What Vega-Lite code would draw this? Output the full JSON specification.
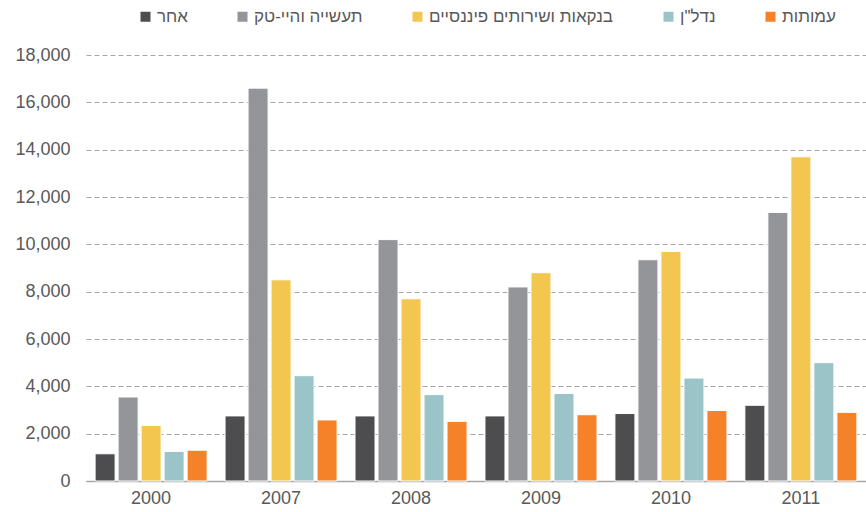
{
  "$schema": "https://vega.github.io/schema/vega-lite/v6.json",
  "width": 780,
  "height": 426,
  "autosize": "none",
  "padding": {"left": 86, "top": 55, "right": 0, "bottom": 31},
  "background": "white",
  "config": {
    "font": "Liberation Sans",
    "view": {"stroke": null}
  },
  "data": {
    "values": [
      {"year": "2000", "sector": "אחר", "value": 1150},
      {"year": "2000", "sector": "תעשייה והיי-טק", "value": 3550},
      {"year": "2000", "sector": "בנקאות ושירותים פיננסיים", "value": 2350},
      {"year": "2000", "sector": "נדל\"ן", "value": 1250},
      {"year": "2000", "sector": "עמותות", "value": 1300},
      {"year": "2007", "sector": "אחר", "value": 2750},
      {"year": "2007", "sector": "תעשייה והיי-טק", "value": 16600},
      {"year": "2007", "sector": "בנקאות ושירותים פיננסיים", "value": 8500},
      {"year": "2007", "sector": "נדל\"ן", "value": 4450},
      {"year": "2007", "sector": "עמותות", "value": 2580},
      {"year": "2008", "sector": "אחר", "value": 2750},
      {"year": "2008", "sector": "תעשייה והיי-טק", "value": 10200},
      {"year": "2008", "sector": "בנקאות ושירותים פיננסיים", "value": 7700},
      {"year": "2008", "sector": "נדל\"ן", "value": 3650},
      {"year": "2008", "sector": "עמותות", "value": 2520},
      {"year": "2009", "sector": "אחר", "value": 2750},
      {"year": "2009", "sector": "תעשייה והיי-טק", "value": 8200},
      {"year": "2009", "sector": "בנקאות ושירותים פיננסיים", "value": 8800},
      {"year": "2009", "sector": "נדל\"ן", "value": 3700},
      {"year": "2009", "sector": "עמותות", "value": 2800},
      {"year": "2010", "sector": "אחר", "value": 2850},
      {"year": "2010", "sector": "תעשייה והיי-טק", "value": 9350},
      {"year": "2010", "sector": "בנקאות ושירותים פיננסיים", "value": 9700},
      {"year": "2010", "sector": "נדל\"ן", "value": 4350},
      {"year": "2010", "sector": "עמותות", "value": 2980},
      {"year": "2011", "sector": "אחר", "value": 3200},
      {"year": "2011", "sector": "תעשייה והיי-טק", "value": 11350},
      {"year": "2011", "sector": "בנקאות ושירותים פיננסיים", "value": 13700},
      {"year": "2011", "sector": "נדל\"ן", "value": 5000},
      {"year": "2011", "sector": "עמותות", "value": 2900}
    ]
  },
  "mark": {"type": "bar", "stroke": "white", "strokeWidth": 1},
  "encoding": {
    "x": {
      "field": "year",
      "type": "nominal",
      "scale": {"paddingInner": 0.138, "paddingOuter": 0.07},
      "axis": {
        "title": null,
        "labelAngle": 0,
        "labelFontSize": 18,
        "labelColor": "#595959",
        "labelPadding": 8,
        "ticks": false,
        "domainColor": "#a6a6a6",
        "domainWidth": 1.5,
        "grid": false
      }
    },
    "xOffset": {
      "field": "sector",
      "type": "nominal",
      "scale": {
        "domain": ["אחר", "תעשייה והיי-טק", "בנקאות ושירותים פיננסיים", "נדל\"ן", "עמותות"],
        "paddingInner": 0.13,
        "paddingOuter": 0
      }
    },
    "y": {
      "field": "value",
      "type": "quantitative",
      "scale": {"domain": [0, 18000]},
      "axis": {
        "title": null,
        "values": [0, 2000, 4000, 6000, 8000, 10000, 12000, 14000, 16000, 18000],
        "format": ",.0f",
        "labelFontSize": 18,
        "labelColor": "#595959",
        "labelPadding": 16,
        "ticks": false,
        "domain": false,
        "grid": true,
        "gridColor": "#a6a6a6",
        "gridDash": [5, 3],
        "gridWidth": 1
      }
    },
    "color": {
      "field": "sector",
      "type": "nominal",
      "scale": {
        "domain": ["אחר", "תעשייה והיי-טק", "בנקאות ושירותים פיננסיים", "נדל\"ן", "עמותות"],
        "range": ["#4d4d4f", "#939598", "#f2c64f", "#9ac4c7", "#f58229"]
      },
      "legend": {
        "title": null,
        "orient": "none",
        "direction": "horizontal",
        "legendX": 51,
        "legendY": -47,
        "symbolType": "square",
        "symbolSize": 100,
        "symbolStrokeWidth": 0,
        "labelFontSize": 17,
        "labelLimit": 400,
        "labelColor": "#595959",
        "labelOffset": 3,
        "columnPadding": 46
      }
    }
  }
}
